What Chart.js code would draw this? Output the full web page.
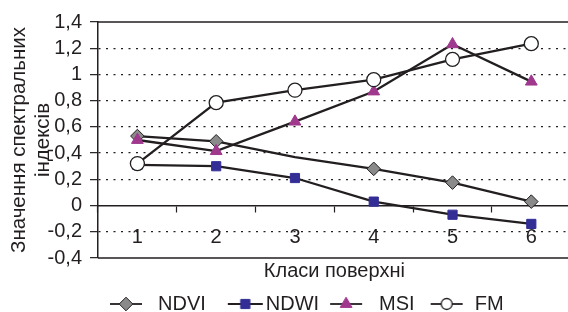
<!DOCTYPE html>
<html>
<head>
<meta charset="utf-8">
<script src="https://cdn.jsdelivr.net/npm/chart.js@4"></script>
<style>
  html, body { margin: 0; padding: 0; background: #fff; overflow: hidden; }
  #wrap { width: 579px; height: 324px; }
</style>
</head>
<body>
<div id="wrap"><canvas id="chart"></canvas></div>
<script>
// Data
const categories = ['1', '2', '3', '4', '5', '6'];
const seriesNames = ['NDVI', 'NDWI', 'MSI', 'FM'];
const ndvi = [0.53, 0.49, 0.37, 0.28, 0.175, 0.03];
const ndwi = [0.31, 0.30, 0.21, 0.03, -0.07, -0.14];
const msi = [0.50, 0.415, 0.64, 0.87, 1.23, 0.945];
const fm = [0.32, 0.785, 0.88, 0.96, 1.115, 1.235];
const yMin = -0.4, yMax = 1.4, yStep = 0.2;
const xTitle = 'Класи поверхні';
const yTitle = ['Значення спектральних', 'індексів'];

const ink = '#231f20';
const font = "'Liberation Sans', Arial, sans-serif";

// marker styles per series
const markers = [
  { style: 'rectRot', radius: 6.8, fill: '#8a8a8a', stroke: ink, width: 1 },
  { style: 'rect', radius: 6.5, fill: '#332e96', stroke: '#332e96', width: 1 },
  { style: 'triangle', radius: 6.8, fill: '#a0388e', stroke: '#a0388e', width: 1 },
  { style: 'circle', radius: 7, fill: '#ffffff', stroke: ink, width: 1.3 }
];
// legend line start/end inside each icon (icon is 70px wide, text follows right edge)
const legendLines = [[22, 54], [32, 67], [21, 53], [26, 58]];

function drawMarker(ctx, m, x, y, r) {
  ctx.fillStyle = m.fill;
  ctx.strokeStyle = m.stroke;
  ctx.lineWidth = m.width;
  ctx.beginPath();
  if (m.style === 'rectRot') {
    ctx.moveTo(x, y - r); ctx.lineTo(x + r, y); ctx.lineTo(x, y + r); ctx.lineTo(x - r, y);
  } else if (m.style === 'rect') {
    const s = r * Math.SQRT1_2;
    ctx.rect(x - s, y - s, 2 * s, 2 * s);
  } else if (m.style === 'triangle') {
    ctx.moveTo(x, y - r); ctx.lineTo(x + r * 0.87, y + r * 0.5); ctx.lineTo(x - r * 0.87, y + r * 0.5);
  } else {
    ctx.arc(x, y, r, 0, Math.PI * 2);
  }
  ctx.closePath();
  ctx.fill();
  ctx.stroke();
}

const legendIcons = markers.map((m, i) => {
  const c = document.createElement('canvas');
  c.width = 70; c.height = 20;
  const g = c.getContext('2d');
  const [a, b] = legendLines[i];
  g.strokeStyle = ink; g.lineWidth = 1.8;
  g.beginPath(); g.moveTo(a, 10); g.lineTo(b, 10); g.stroke();
  drawMarker(g, m, (a + b) / 2, 10, m.style === 'circle' ? 5.5 : m.radius);
  return c;
});

// solid top and bottom frame lines of the plot
const frameLines = {
  id: 'frameLines',
  beforeDatasetsDraw(chart) {
    const { ctx, chartArea: a } = chart;
    ctx.save();
    ctx.strokeStyle = ink;
    ctx.lineWidth = 1.5;
    ctx.beginPath();
    ctx.moveTo(a.left, a.top); ctx.lineTo(a.right, a.top);
    ctx.moveTo(a.left, a.bottom); ctx.lineTo(a.right, a.bottom);
    ctx.stroke();
    ctx.restore();
  }
};

const allSeries = [ndvi, ndwi, msi, fm];
const datasets = allSeries.map((vals, i) => ({
  label: seriesNames[i],
  data: vals,
  borderColor: ink,
  borderWidth: 2.3,
  tension: 0,
  pointStyle: markers[i].style,
  pointRadius: i === 0 ? vals.map((v, k) => k === 2 ? 0 : markers[i].radius) : markers[i].radius,
  pointBackgroundColor: markers[i].fill,
  pointBorderColor: markers[i].stroke,
  pointBorderWidth: markers[i].width,
  order: allSeries.length - i
}));

function isFrameValue(v) {
  const r = Math.round(v * 10) / 10;
  return r === 0 || r === yMax || r === yMin;
}

new Chart(document.getElementById('chart'), {
  type: 'line',
  data: { labels: categories, datasets: datasets },
  options: {
    responsive: true,
    maintainAspectRatio: false,
    animation: false,
    layout: { padding: { top: 22, right: 0, bottom: 0, left: 0 } },
    scales: {
      x: {
        type: 'category',
        offset: true,
        position: { y: 0 },
        grid: { offset: true, drawOnChartArea: false, drawTicks: true, tickLength: 6, tickColor: ink, tickWidth: 1.2 },
        border: { display: true, color: ink, width: 1.5 },
        ticks: { color: ink, font: { family: font, size: 20 }, padding: 14 }
      },
      y: {
        min: yMin,
        max: yMax,
        afterFit: scale => { scale.width = 98; },
        ticks: {
          stepSize: yStep,
          autoSkip: false,
          color: ink,
          font: { family: font, size: 20 },
          padding: 8,
          callback: v => String(Math.round(v * 10) / 10).replace('.', ',')
        },
        grid: {
          color: c => (c.tick && isFrameValue(c.tick.value)) ? 'rgba(0,0,0,0)' : ink,
          lineWidth: 1.3,
          tickColor: ink,
          tickLength: 8,
          tickWidth: 1.2
        },
        border: { display: true, color: ink, width: 1.5, dash: [2, 5.5] },
        title: {
          display: true,
          text: yTitle,
          color: ink,
          font: { family: font, size: 20.5, lineHeight: 1.15 },
          padding: { top: 8, bottom: 0 }
        }
      }
    },
    plugins: {
      title: {
        display: true,
        text: xTitle,
        position: 'bottom',
        fullSize: false,
        weight: 0,
        color: ink,
        font: { family: font, size: 20, weight: 'normal', lineHeight: 1.2 },
        padding: { top: 1, bottom: 11 }
      },
      legend: {
        position: 'bottom',
        fullSize: false,
        align: 'start',
        labels: {
          usePointStyle: true,
          pointStyleWidth: 50,
          padding: 0,
          color: ink,
          font: { family: font, size: 20 },
          generateLabels: chart => chart.data.datasets.map((ds, i) => ({
            text: ds.label,
            pointStyle: legendIcons[i],
            fillStyle: markers[i].fill,
            strokeStyle: ink,
            lineWidth: 0,
            hidden: false,
            datasetIndex: i,
            fontColor: ink
          }))
        }
      },
      tooltip: { enabled: false }
    }
  },
  plugins: [frameLines]
});
</script>
</body>
</html>
